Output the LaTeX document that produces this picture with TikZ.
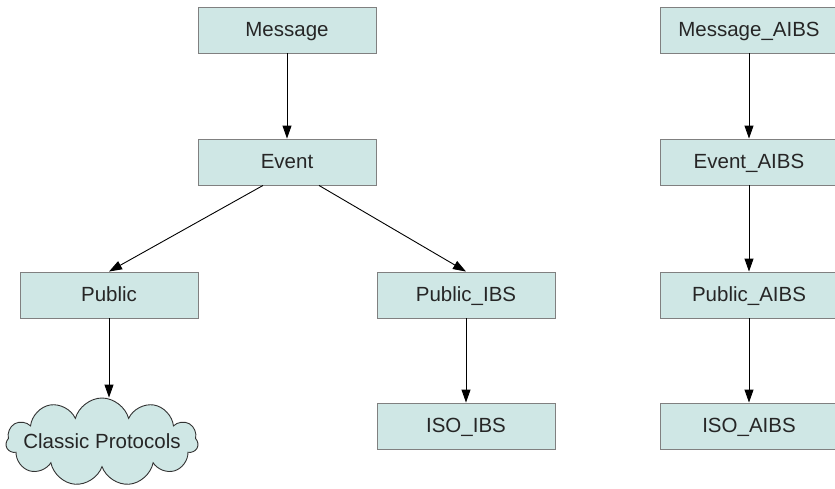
\documentclass[tikz,border=0pt]{standalone}
\usepackage{fontspec}
\setmainfont{Liberation Sans}
\usetikzlibrary{arrows.meta,shapes.symbols}
\definecolor{boxfill}{RGB}{207,231,229}
\definecolor{boxline}{RGB}{128,128,128}
\begin{document}
\begin{tikzpicture}[x=1pt,y=-1pt,
  cls/.style={draw=boxline,fill=boxfill,line width=0.9pt,minimum width=178pt,minimum height=46pt,inner sep=0pt,text height=17pt,text depth=5pt,font=\fontsize{20.5}{24}\selectfont,text=black!85},
  blob/.style={cloud,cloud puffs=11,aspect=2.2,draw=black!80,fill=boxfill,line width=0.9pt,minimum width=192pt,minimum height=88pt,inner sep=0pt,text height=17pt,text depth=5pt,font=\fontsize{20.5}{24}\selectfont,text=black!85},
  inh/.style={-{Triangle[length=13pt,width=9pt]},line width=0.9pt,black}]
\useasboundingbox (0,0) rectangle (835,488);

\node[cls] (message) at (287,30) {Message};
\node[cls] (event) at (287,162) {Event};
\node[cls] (public) at (109,295) {Public};
\node[cls] (publicibs) at (466,295) {Public\_IBS};
\node[cls] (isoibs) at (466,426) {ISO\_IBS};
\node[blob] (classic) at (102,442) {\makebox[0pt]{Classic Protocols}};

\node[cls] (messageaibs) at (749,30) {Message\_AIBS};
\node[cls] (eventaibs) at (749,162) {Event\_AIBS};
\node[cls] (publicaibs) at (749,295) {Public\_AIBS};
\node[cls] (isoaibs) at (749,426) {ISO\_AIBS};

\draw[inh] (message.south) -- (event.north);
\draw[inh] ([xshift=-24pt]event.south) -- (public.north);
\draw[inh] ([xshift=32pt]event.south) -- (publicibs.north);
\draw[inh] (public.south) -- (public.south |- classic.north);
\draw[inh] (publicibs.south) -- (isoibs.north);

\draw[inh] (messageaibs.south) -- (eventaibs.north);
\draw[inh] (eventaibs.south) -- (publicaibs.north);
\draw[inh] (publicaibs.south) -- (isoaibs.north);
\end{tikzpicture}
\end{document}
